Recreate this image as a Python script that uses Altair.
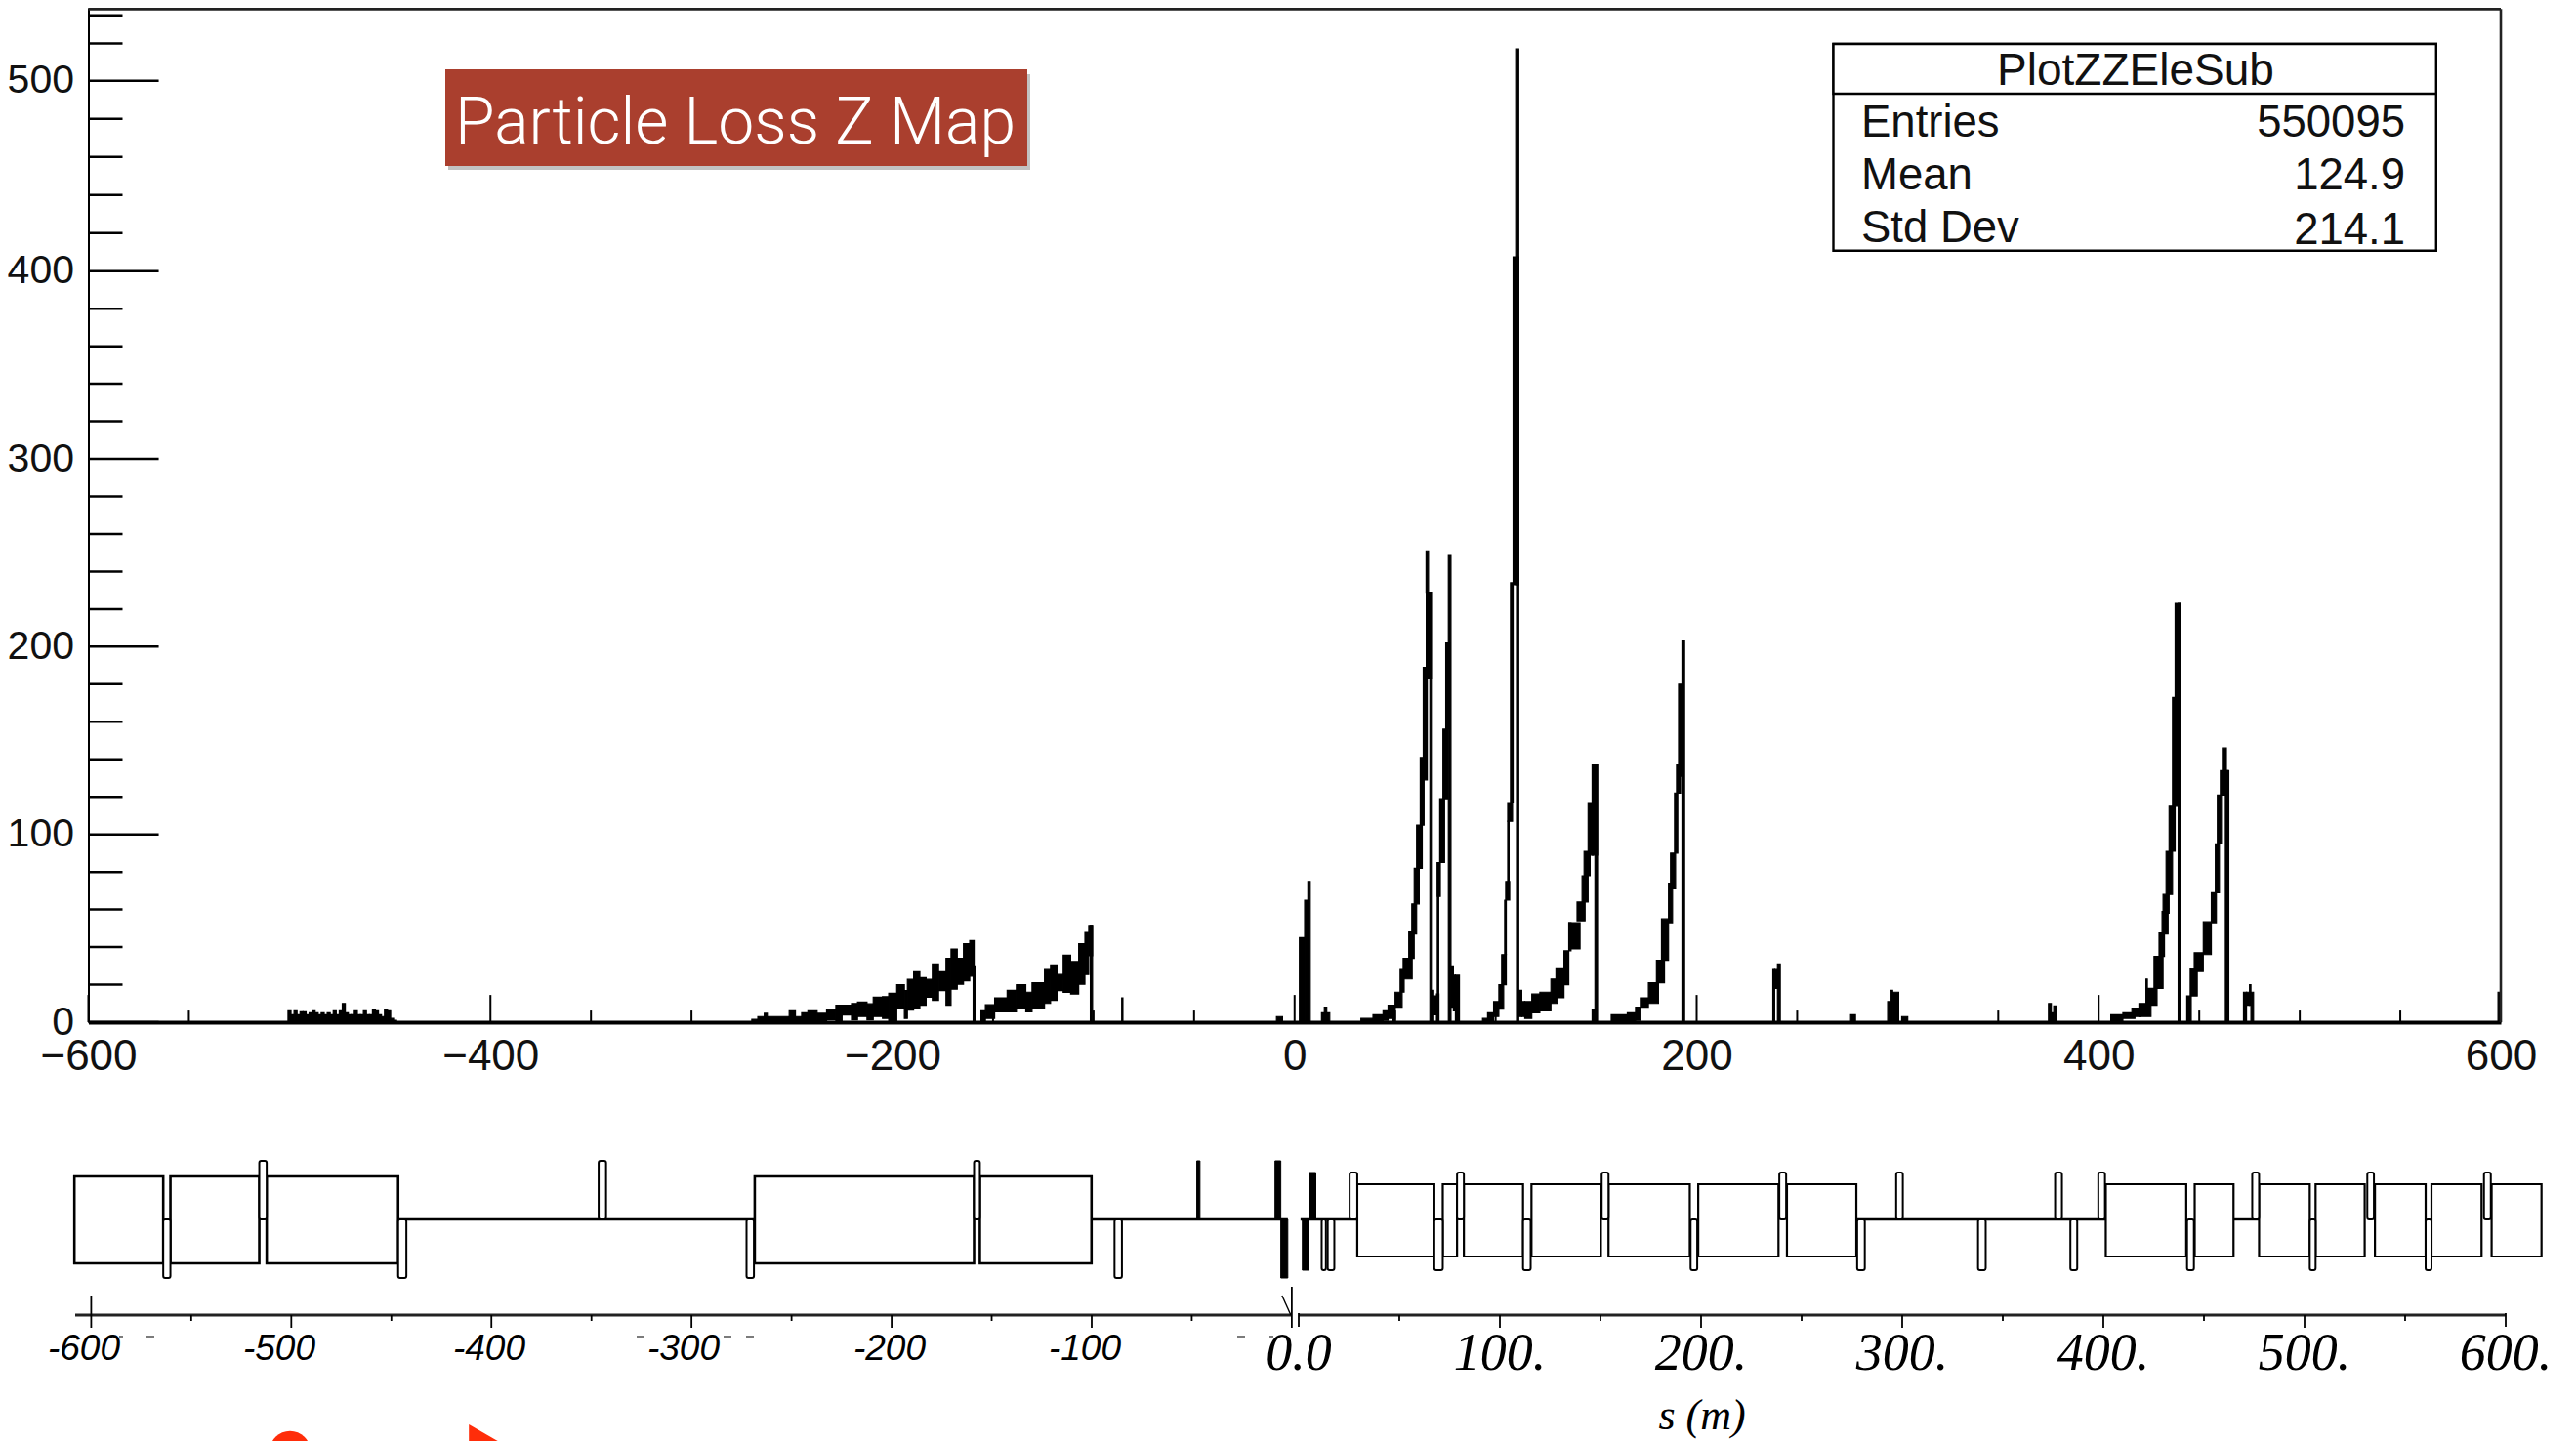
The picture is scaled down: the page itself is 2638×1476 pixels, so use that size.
import altair as alt
import pandas as pd

# ---- histogram columns: (s_start, s_end, low, high) ----
noise_start = -500.7
noise_step = 1.5
noise_heights = [6, 4, 6, 4, 5.5, 5.5, 4, 5, 6, 5, 4, 5, 4, 5, 4, 6, 4, 6, 10, 5, 4, 4, 6, 4, 4, 6, 4, 4, 7, 6, 4, 3, 7, 6, 2, 1]

ramp_a_edges = [-270, -267, -263.8, -262.3, -251.4, -248.3, -245.2, -242.1, -237.5, -232.8, -228.2, -225.1, -220.4, -217.4, -212.7, -209.6, -205, -201.9, -197.9, -194.1, -192.6, -189.5, -186.4, -183.3, -180.2, -177.1, -173.4, -170.9, -167.8, -164.7, -161.6, -159.4]
ramp_a_high = [1.5, 3, 4.7, 3, 6, 3, 5, 6, 4.7, 6.7, 9, 9, 10, 10.7, 9.8, 13.3, 13.6, 15.4, 20, 16.8, 22.8, 26.8, 23.7, 22.8, 31, 26.8, 34, 39, 34, 41.8, 43.5]
ramp_a_low = [0, 0, 0, 0, 0, 0, 0, 0, 0, 1.2, 0.3, 3.8, 1.2, 3, 1.2, 3, 2, 0.3, 7.3, 2, 6.4, 7.3, 9, 13.3, 11.6, 16.8, 9, 17.6, 20.2, 22, 24.5]

ramp_b_edges = [-156, -153.8, -149.2, -143, -138.4, -133.7, -130.6, -124.4, -121.4, -118.2, -115.1, -111.4, -107.4, -104.3, -102.4, -100.5]
ramp_b_high = [6, 9.3, 13, 17, 20, 16, 21, 28, 30.5, 25.4, 35.7, 32.3, 41.8, 47.8, 51.6]
ramp_b_low = [0, 2, 5.5, 5.5, 7.3, 5.5, 7.3, 10, 11.6, 16.8, 15.9, 15, 20.2, 25.4, 35.4]

clusters = [
    (-159.9, -159.0, 0, 30), (-101.6, -100.5, 0, 51.6), (-86.0, -85.4, 0, 13),
    (-9, -6, 0, 3), (2.4, 5, 0, 45), (5, 6.6, 0, 65), (6.6, 7.8, 0, 75),
    (13.4, 17.5, 0, 5), (14.8, 16, 0, 8),
    # first rise
    (33, 39, 0, 2), (39, 44, 0, 4), (44, 46.5, 1, 6), (46.5, 50, 2, 9), (48.5, 50, 0, 9), (50, 53.5, 8, 16), (52.5, 54.5, 16, 28),
    (54, 58.5, 23, 34), (56.8, 59.5, 34, 48), (58.3, 60.7, 47, 63), (59.5, 62, 63, 82), (60.7, 63.5, 82, 105),
    (62.5, 64.4, 105, 141), (64, 66, 129, 189), (64.9, 65.5, 130, 185), (65.5, 68, 183, 229), (65.4, 66.6, 229, 251), (67.3, 68, 0, 229),
    (68, 69.2, 0, 17), (69.2, 70.6, 4, 14), (70.6, 71.8, 0, 15),
    # second rise
    (71, 71.7, 0, 85), (71, 72.5, 67, 85), (72.2, 74.6, 85, 119), (73.8, 76.2, 119, 156), (75.2, 77.3, 156, 202), (76.5, 77.8, 0, 249),
    (77.8, 79, 8, 30), (79, 80, 6, 25), (80, 82, 0, 25),
    # third rise
    (93.5, 96, 0, 2), (96, 99, 0, 5), (99, 101.6, 3, 11), (101.6, 104, 7, 20), (103, 105.3, 20, 36), (104.5, 105.3, 36, 65),
    (105, 107, 65, 75), (106, 106.7, 75, 107), (106, 108.4, 107, 117), (107.4, 108.7, 117, 234), (108.7, 111.5, 233, 407.5), (110, 111.5, 233, 517), (110.4, 111.5, 0, 233),
    # fourth rise
    (111.5, 113, 3, 17), (113, 114.5, 3, 11), (114.5, 118, 2, 11), (118, 122, 5, 15), (122, 127.5, 6, 16), (127.5, 130.7, 10, 23),
    (130, 134, 13, 29), (134, 136.4, 20, 38), (136.4, 142, 39, 53), (136.4, 137.5, 38, 53), (140.5, 144.5, 54, 64), (143, 146, 64, 78), (144, 147, 78, 91),
    (146, 148.5, 89, 117), (148, 150.7, 89, 137), (149.4, 150.7, 0, 137), (148, 149.4, 0, 7),
    # fifth rise
    (157.5, 165.5, 0, 4), (165.5, 169.6, 0, 5), (169.6, 172, 1, 8), (172, 176, 8, 13), (176, 181, 10, 21), (180, 184, 21, 33),
    (182.5, 186, 33, 55), (186, 188, 53, 74), (187, 189.5, 71, 90), (189, 190.6, 90, 122), (190, 192, 122, 137), (191, 192.7, 131, 180), (192.7, 194, 0, 203),
    # small clusters
    (237.9, 238.8, 0, 28), (238.8, 240.2, 18, 28), (240.2, 241.6, 0, 31), (276.6, 279, 0, 4),
    (295, 296.5, 0, 11), (296.5, 297.5, 0, 17), (297.5, 300.5, 0, 16), (302, 305, 0, 3),
    (375, 376.4, 0, 10), (376.4, 377.6, 0, 5), (377.6, 379, 0, 8.6),
    # sixth rise
    (406, 412, 0, 4), (412, 418, 2, 5), (416.5, 421, 3, 7.5), (420, 426, 3, 10), (423.5, 424.2, 5, 23), (424, 429, 9, 18),
    (427.5, 432, 18, 35), (430, 432.7, 35, 47.5), (431.5, 434.5, 47, 59), (432, 435, 58, 68), (433.5, 436.7, 68, 91), (435, 438, 91, 115),
    (436.7, 439.8, 115, 173), (438, 440.7, 148, 223), (439.5, 440.7, 0, 223),
    # seventh rise
    (443.8, 446, 0, 14), (445.5, 449, 14, 28.5), (447.5, 452, 27, 37), (452, 456, 36, 53.5), (456, 458.5, 53, 69), (458, 460, 69, 95),
    (459, 461, 95, 121), (460.5, 464.3, 121, 134), (461.5, 463.5, 134, 146), (463, 464.7, 0, 134),
    (472, 473.5, 0, 16), (473.5, 475, 9, 16), (475, 475.7, 9, 20), (475.7, 477, 0, 16), (598.6, 600, 0, 16),
]

x_major = [-600, -400, -200, 0, 200, 400, 600]
x_minor = [-550, -500, -450, -350, -300, -250, -150, -100, -50, 50, 100, 150, 250, 300, 350, 450, 500, 550]
y_major = [0, 100, 200, 300, 400, 500]
y_minor = [20, 40, 60, 80, 120, 140, 160, 180, 220, 240, 260, 280, 320, 340, 360, 380, 420, 440, 460, 480, 520, 535]

# ---- beamline schematic: element edges in s (m) ----
left_blocks = [(-608.4, -564), (-560.4, -516), (-512.3, -446.6), (-268.4, -158.8), (-155.9, -100.1)]
right_blocks = [(29.1, 67.4), (71.6, 78.7), (82.1, 111.5), (115.7, 150.2), (154, 194.4), (198.6, 238.5), (242.7, 277.2),
                (401.2, 441.2), (445.4, 464.7), (477.4, 502.6), (505.5, 529.9), (535, 560.2), (563.1, 588), (593, 617.8)]
left_up = [(-516, -512.3), (-346.4, -342.7), (-158.8, -155.9)]
left_down = [(-564, -560.4), (-446.6, -442.5), (-272.5, -268.8), (-88.6, -84.9)]
left_up_solid = [(-47.5, -45.9), (-8.4, -5.5)]
left_down_solid = [(-5.5, -2)]
right_up = [(25.3, 29.1), (78.7, 82.1), (150.6, 154), (238.9, 242.3), (297, 300.3), (376, 379.4), (397.5, 400.8), (474, 477.4), (531.2, 534.5), (589.2, 592.6)]
right_down = [(67.4, 71.6), (111.5, 115.3), (194.8, 198.1), (277.6, 281.4), (337.7, 341.5), (383.6, 387), (441.6, 445), (502.6, 505.5), (560.2, 563.1), (11.4, 13.5), (14.4, 17.7)]
right_up_solid = [(5.1, 8.5)]
right_down_solid = [(1.8, 5.1)]
center_lines = [(-446.6, -268.4), (-100.1, -2), (0.9, 29.1), (277.2, 401.2), (464.7, 477.4)]

s_major = [-500, -400, -300, -200, -100, 100, 200, 300, 400, 500]
s_minor = [-550, -450, -350, -250, -150, -50, 50, 150, 250, 350, 450, 550]
neg_labels = ["-600", "-500", "-400", "-300", "-200", "-100"]
neg_label_pos = [86, 286, 501, 700, 911, 1111]
pos_labels = ["0.0", "100.", "200.", "300.", "400.", "500.", "600."]
pos_label_vals = [0, 100, 200, 300, 400, 500, 600]
dash_pos = [(122, 126), (150, 158), (652, 660), (741, 749), (764, 772), (1267, 1275), (1300, 1304)]

stats_names = ["Entries", "Mean", "Std Dev"]
stats_values = ["550095", "124.9", "214.1"]

# ---- page layout helpers ----
PX0, PY0 = 90.5, 8
def px(v): return v - PX0
def py(v): return v - PY0

xs_main = alt.Scale(domain=[-600, 600])
ys_main = alt.Scale(domain=[0, 400, 500, 539], range=[1039, 269.7, 74.7, 0])
xs_low = alt.Scale(domain=[-600, -0.001, 0, 600], range=[2.9, 1232.4, 1239.5, 2475.5])
ys_low = alt.Scale(domain=[-100, 100], range=[1341, 1141])

def X_low(f): return alt.X(f, scale=xs_low, axis=None)
def Y_low(f): return alt.Y(f, scale=ys_low, axis=None)
def X_px(f): return alt.X(f, scale=None, axis=None)
def Y_px(f): return alt.Y(f, scale=None, axis=None)

# main histogram table
rows = []
for i, h in enumerate(noise_heights):
    rows.append((noise_start + i * noise_step, noise_start + (i + 1) * noise_step, 0, h))
for i in range(len(ramp_a_high)):
    rows.append((ramp_a_edges[i], ramp_a_edges[i + 1], ramp_a_low[i], ramp_a_high[i]))
for i in range(len(ramp_b_high)):
    rows.append((ramp_b_edges[i], ramp_b_edges[i + 1], ramp_b_low[i], ramp_b_high[i]))
rows += clusters
hist = pd.DataFrame(rows, columns=["s0", "s1", "lo", "hi"])

hist_layer = alt.Chart(hist).mark_rect(color="black", stroke="black", strokeWidth=1.2).encode(
    x=alt.X("s0:Q", scale=xs_main, axis=alt.Axis(values=x_major, format="d", title=None, grid=False, ticks=False,
            labelFont="Liberation Sans", labelFontSize=44, labelColor="#111", labelPadding=13, labelFlush=False,
            domainColor="black", domainWidth=4, labelOverlap=False)),
    x2="s1:Q",
    y=alt.Y("lo:Q", scale=ys_main, axis=alt.Axis(values=y_major, format="d", title=None, grid=False, ticks=False,
            labelFont="Liberation Sans", labelFontSize=41, labelColor="#111", labelPadding=15, labelFlush=False,
            domainColor="black", domainWidth=2, labelOverlap=False)),
    y2="hi:Q",
)

xt = pd.DataFrame({"s": x_major + x_minor, "len": [14.5] * len(x_major) + [6.2] * len(x_minor)})
xt["zero"] = 0
xticks = alt.Chart(xt).mark_rule(color="black", strokeWidth=2).encode(
    x=alt.X("s:Q", scale=xs_main), y=alt.Y("zero:Q", scale=ys_main), y2="len:Q")

yt = pd.DataFrame({"v": y_major + y_minor, "x0": -600, "x1": [-565.0] * len(y_major) + [-583.0] * len(y_minor)})
yticks = alt.Chart(yt).mark_rule(color="black", strokeWidth=2.5).encode(
    x=alt.X("x0:Q", scale=xs_main), x2="x1:Q", y=alt.Y("v:Q", scale=ys_main))

frame = pd.DataFrame({"x0": [-600, 600], "x1": [600, 600], "y0": [538.3, 0], "y1": [538.3, 538.3]})
frame_layer = alt.Chart(frame).mark_rule(color="#222", strokeWidth=2.6).encode(
    x=alt.X("x0:Q", scale=xs_main), x2="x1:Q", y=alt.Y("y0:Q", scale=ys_main), y2="y1:Q")

main = alt.layer(yticks, xticks, hist_layer, frame_layer)

# ---- schematic ----
def elem(pairs, lo, hi, fill, sw=2.2, radius=0):
    df = pd.DataFrame(pairs, columns=["a", "b"])
    df["lo"], df["hi"] = lo, hi
    m = alt.Chart(df).mark_rect(fill=fill, fillOpacity=1 if fill != "none" else 0, stroke="black", strokeWidth=sw, cornerRadius=radius)
    return m.encode(x=X_low("a:Q"), x2="b:Q", y=Y_low("lo:Q"), y2="hi:Q")

cl = pd.DataFrame(center_lines, columns=["a", "b"])
cl["y"] = 0
center = alt.Chart(cl).mark_rule(color="black", strokeWidth=2.4).encode(
    x=X_low("a:Q"), x2="b:Q", y=Y_low("y:Q"))

ax_df = pd.DataFrame({"a": [-608.0, 0.0], "b": [-0.01, 600.0], "y": [-98, -98]})
s_axis = alt.Chart(ax_df).mark_rule(color="#222", strokeWidth=3).encode(
    x=X_low("a:Q"), x2="b:Q", y=Y_low("y:Q"))

st_vals = s_major + s_minor + [-600, -0.01, 0, 600]
st_top = [-98] * len(s_major) + [-98] * len(s_minor) + [-78, -69, -96, -96]
st_bot = [-111] * len(s_major) + [-104] * len(s_minor) + [-111, -111, -110, -110]
s_ticks = alt.Chart(pd.DataFrame({"s": st_vals, "t": st_top, "b": st_bot})).mark_rule(color="black", strokeWidth=1.8).encode(
    x=X_low("s:Q"), y=Y_low("t:Q"), y2="b:Q")
slash = alt.Chart(pd.DataFrame({"a": [-4.9], "b": [-0.5], "t": [-78], "u": [-98]})).mark_rule(color="black", strokeWidth=1.4).encode(
    x=X_low("a:Q"), x2="b:Q", y=Y_low("t:Q"), y2="u:Q")

pos_lab = alt.Chart(pd.DataFrame({"s": pos_label_vals, "t": pos_labels, "y": [py(1402.7)] * 7})).mark_text(
    font="Liberation Serif", fontStyle="italic", fontSize=54, align="center", baseline="alphabetic", color="black"
).encode(x=X_low("s:Q"), y=Y_px("y:Q"), text="t:N")

lower = alt.layer(
    elem(left_blocks, -45, 44, "none", 2.6), elem(right_blocks, -38, 36, "none", 2.2),
    center, s_axis, s_ticks, slash,
    elem(left_up, 0, 60, "white", 2, 2), elem(left_down, -60, 0, "white", 2, 2),
    elem(right_up, 0, 48, "white", 2, 2), elem(right_down, -52, 0, "white", 2, 2),
    elem(left_up_solid, 0, 60, "black", 1), elem(left_down_solid, -60, 0, "black", 1),
    elem(right_up_solid, 0, 48, "black", 1), elem(right_down_solid, -52, 0, "black", 1),
    pos_lab,
)

# ---- page annotations ----
def text_layer(texts, xs, ys, size, font="Liberation Sans", align="left", color="black", style="normal", weight="normal"):
    df = pd.DataFrame({"t": texts, "x": [px(v) for v in xs], "y": [py(v) for v in ys]})
    return alt.Chart(df).mark_text(font=font, fontSize=size, align=align, baseline="alphabetic", color=color,
                                   fontStyle=style, fontWeight=weight).encode(
        x=X_px("x:Q"), y=Y_px("y:Q"), text="t:N")

def box_layer(x0, x1, y0, y1, **kw):
    df = pd.DataFrame({"x": [px(x0)], "x2": [px(x1)], "y": [py(y0)], "y2": [py(y1)]})
    return alt.Chart(df).mark_rect(**kw).encode(
        x=X_px("x:Q"), x2="x2:Q", y=Y_px("y:Q"), y2="y2:Q")

dash_df = pd.DataFrame({"x": [px(a) for a, b in dash_pos], "x2": [px(b) for a, b in dash_pos], "y": [py(1369)] * len(dash_pos)})
dashes = alt.Chart(dash_df).mark_rule(color="#333", strokeWidth=1.3).encode(
    x=X_px("x:Q"), x2="x2:Q", y=Y_px("y:Q"))

red_circle = alt.Chart(pd.DataFrame({"x": [px(297)], "y": [py(1486.5)]})).mark_circle(size=1735, color="#ff2d0a", opacity=1).encode(
    x=X_px("x:Q"), y=Y_px("y:Q"))
red_tri = alt.Chart(pd.DataFrame({"x": [px(501)], "y": [py(1483)]})).mark_point(shape="triangle-right", size=2304, filled=True, color="#ff2d0a", opacity=1).encode(
    x=X_px("x:Q"), y=Y_px("y:Q"))

annot = alt.layer(
    dashes,
    text_layer(neg_labels, neg_label_pos, [1393] * 6, 37, align="center", style="italic"),
    text_layer(["s (m)"], [1743], [1464], 44, font="Liberation Serif", align="center", style="italic"),
    box_layer(459, 1055, 76, 174, fill="#777", opacity=0.45),
    box_layer(456, 1052, 71, 170, fill="#aa3f2e"),
    text_layer(["Particle Loss Z Map"], [1040], [146.5], 66, font="Roboto", align="right", color="white", weight=300),
    box_layer(1877.5, 2494.8, 45, 256.7, fill="white", stroke="black", strokeWidth=2.4),
    box_layer(1877.5, 2494.8, 45, 96, fill="white", stroke="black", strokeWidth=2.4),
    text_layer(["PlotZZEleSub"], [2187], [86.5], 46, align="center", color="#111"),
    text_layer(stats_names, [1906] * 3, [139.5, 193.5, 247.5], 45.5, color="#111"),
    text_layer(stats_values, [2463] * 3, [139.5, 193.5, 249.5], 45.5, align="right", color="#111"),
    red_circle, red_tri,
)

chart = alt.layer(main, lower, annot).resolve_scale(x="independent", y="independent").properties(
    width=2470.5, height=1039,
    padding={"left": 82.5, "top": 0, "right": 69, "bottom": 429},
    autosize=alt.AutoSizeParams(type="none"),
    background="white",
).configure_view(stroke=None)

chart.save("out.html", embed_options={"renderer": "svg", "actions": False})
